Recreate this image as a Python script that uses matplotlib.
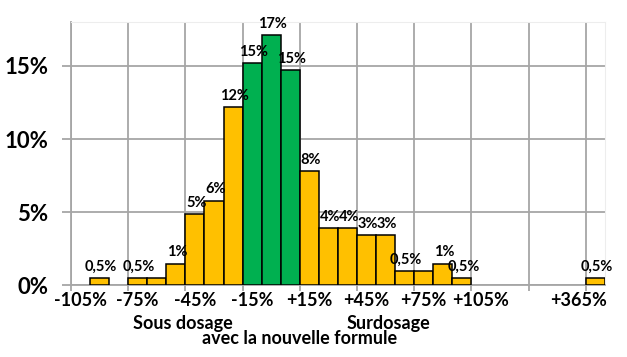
import matplotlib.pyplot as plt
import matplotlib.transforms as mtransforms
import numpy as np

# one value per 10% bin, from -105% up to +365% (bins between +105% and +365% are empty)
values = [0, 0.5, 0, 0.5, 0.5, 1.5, 4.9, 5.8, 12.2, 15.2, 17.1, 14.7, 7.8, 3.9,
          3.9, 3.45, 3.45, 1.0, 1.0, 1.5, 0.5, 0, 0, 0, 0, 0, 0, 0.5]
bar_labels = ['', '0,5%', '', '0,5%', '', '1%', '5%', '6%', '12%', '15%', '17%', '15%',
              '8%', '4%', '4%', '3%', '3%', '0,5%', '', '1%', '0,5%', '', '', '', '',
              '', '', '0,5%']
green_bins = [9, 10, 11]
tick_labels = ['-105%', '-75%', '-45%', '-15%', '+15%', '+45%', '+75%', '+105%', '', '+365%']
y_ticks = [0, 5, 10, 15]

plt.rcParams['font.family'] = ['Lato', 'DejaVu Sans']
plt.rcParams['font.weight'] = 'bold'

fig = plt.figure(figsize=(6.27, 3.57), dpi=100)
ax = fig.add_axes([0.1132, 0.2003, 0.8517, 0.7381])

x = np.arange(len(values))
colors = ['#00B050' if i in green_bins else '#FFC000' for i in x]
for i, v in enumerate(values):
    if v > 0:
        ax.bar(i, v, width=1.0, color=colors[i], edgecolor='black', linewidth=1.1, zorder=3)
    if bar_labels[i]:
        ax.annotate(bar_labels[i], (i, v), xytext=(1, 3), textcoords='offset points',
                    ha='center', va='bottom', fontsize=10.5, fontweight='bold', zorder=4)

ax.set_xlim(-0.5, len(values) - 0.5)
ax.set_ylim(0, 18)

# gridlines sit on bin edges every 3 bins, labels on the bin centres
ax.set_xticks(np.arange(-0.5, len(values) - 1, 3))
ax.set_xticklabels([])
ax.set_xticks(np.arange(0, len(values), 3), minor=True)
ax.set_xticklabels(tick_labels, minor=True, fontsize=13, fontweight='bold')
ax.tick_params(axis='x', which='major', length=4, color='#A6A6A6', width=1.3)
ax.tick_params(axis='x', which='minor', length=0, pad=5)
ax.set_yticks(y_ticks)
ax.set_yticklabels([f'{t}%' for t in y_ticks], fontsize=16, fontweight='bold')
ax.tick_params(axis='y', length=6.5, color='#A6A6A6', width=1.3, pad=10)

ax.grid(True, which='major', color='#A6A6A6', linewidth=1.3, zorder=0)
ax.set_axisbelow(True)
for s in ['top', 'right']:
    ax.spines[s].set_color('#EDEDED')
for s in ['left', 'bottom']:
    ax.spines[s].set_color('#A6A6A6')
    ax.spines[s].set_linewidth(1.3)

# the last label is pulled left like in the original
last = ax.xaxis.get_minor_ticks()[-1].label1
last.set_transform(last.get_transform() + mtransforms.ScaledTranslation(-0.17, 0, fig.dpi_scale_trans))

fig.text(183 / 627, 1 - 323 / 357, 'Sous dosage', ha='center', va='center', fontsize=13, fontweight='bold')
fig.text(388 / 627, 1 - 323 / 357, 'Surdosage', ha='center', va='center', fontsize=13, fontweight='bold')
fig.text(300 / 627, 1 - 339 / 357, 'avec la nouvelle formule', ha='center', va='center', fontsize=13, fontweight='bold')

plt.savefig('out.png', dpi=100)
